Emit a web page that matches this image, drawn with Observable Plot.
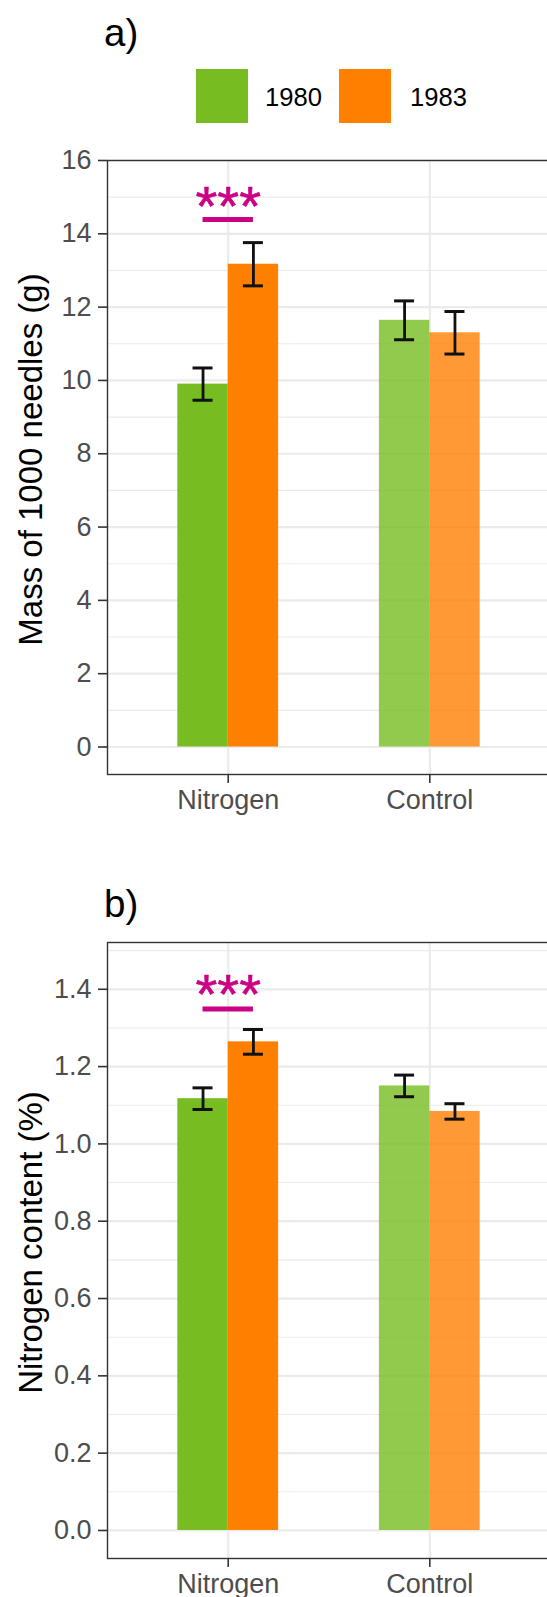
<!DOCTYPE html>
<html>
<head>
<meta charset="utf-8">
<script src="https://cdn.jsdelivr.net/npm/d3@7"></script>
<script src="https://cdn.jsdelivr.net/npm/@observablehq/plot@0.6"></script>
<style>
  html, body { margin: 0; padding: 0; background: #fff; }
  body { font-family: "Liberation Sans", Arial, sans-serif; }
  #page { position: relative; width: 547px; height: 1597px; overflow: hidden; background: #fff; }
  .abs { position: absolute; }
  .ptitle { font-size: 38.5px; line-height: 38.5px; color: #000; white-space: nowrap; }
  .sw { position: absolute; width: 52px; height: 54px; }
  .lt { position: absolute; font-size: 25.6px; line-height: 26px; color: #000; white-space: nowrap; }
</style>
</head>
<body>
<div id="page"></div>
<script>
// ---------------- data ----------------
const treatments = ["Nitrogen", "Control"];
const years = ["1980", "1983"];
const yearColors = ["#77BD21", "#FF8000"];
const panelLabels = ["a)", "b)"];
const yTitles = ["Mass of 1000 needles (g)", "Nitrogen content (%)"];

// a) mass of 1000 needles (g): mean and standard error per treatment
const massMean1980 = [9.9, 11.64];
const massSE1980 = [0.44, 0.53];
const massMean1983 = [13.17, 11.3];
const massSE1983 = [0.59, 0.58];
const massTicks = [0, 2, 4, 6, 8, 10, 12, 14, 16];
const massMinorTicks = [1, 3, 5, 7, 9, 11, 13, 15];
const massSigTreatment = ["Nitrogen"];
const massSigBarY = [14.39];
const massSigStarY = [14.87];

// b) nitrogen content (%)
const nMean1980 = [1.117, 1.15];
const nSE1980 = [0.028, 0.028];
const nMean1983 = [1.264, 1.084];
const nSE1983 = [0.032, 0.02];
const nTicks = [0.0, 0.2, 0.4, 0.6, 0.8, 1.0, 1.2, 1.4];
const nMinorTicks = [0.1, 0.3, 0.5, 0.7, 0.9, 1.1, 1.3, 1.5];
const nSigTreatment = ["Nitrogen"];
const nSigBarY = [1.349];
const nSigStarY = [1.397];

const sigLabel = "***";
const sigColor = "#CC0085";

// ---------------- helpers ----------------
function buildRows(m80, s80, m83, s83) {
  const rows = [];
  treatments.forEach((t, i) => {
    rows.push({treatment: t, year: years[0], mean: m80[i], se: s80[i]});
    rows.push({treatment: t, year: years[1], mean: m83[i], se: s83[i]});
  });
  return rows;
}

const W = 547;
const ML = 107;
const MR = -3;
const PI = 0.5, PO = 0.349;
const xRange = [ML, W - MR];
const step = (xRange[1] - xRange[0]) / (treatments.length - PI + 2 * PO);
const bw = step * (1 - PI);
const capHalf = 10;
const axisFont = 27;

function makeChart(cfg) {
  const rows = cfg.rows;
  const r80 = rows.filter(d => d.year === years[0]);
  const r83 = rows.filter(d => d.year === years[1]);
  const caps80 = r80.flatMap(d => [{treatment: d.treatment, y: d.mean - d.se}, {treatment: d.treatment, y: d.mean + d.se}]);
  const caps83 = r83.flatMap(d => [{treatment: d.treatment, y: d.mean - d.se}, {treatment: d.treatment, y: d.mean + d.se}]);
  const sig = cfg.sigTreatment.map((t, i) => ({treatment: t, bar: cfg.sigBarY[i], star: cfg.sigStarY[i], label: sigLabel}));
  const op = d => d.treatment === "Control" ? 0.8 : 1;
  return Plot.plot({
    width: W,
    height: cfg.height,
    marginLeft: ML,
    marginRight: MR,
    marginTop: cfg.marginTop,
    marginBottom: cfg.marginBottom,
    style: {fontFamily: "'Liberation Sans', Arial, sans-serif", background: "transparent"},
    x: {type: "band", domain: treatments, range: xRange, paddingInner: PI, paddingOuter: PO, round: false},
    y: {domain: cfg.yDomain},
    marks: [
      Plot.gridY(cfg.minor, {stroke: "#EBEBEB", strokeOpacity: 1, strokeWidth: 1.1}),
      Plot.gridY(cfg.ticks, {stroke: "#EBEBEB", strokeOpacity: 1, strokeWidth: 2.2}),
      Plot.gridX(treatments, {stroke: "#EBEBEB", strokeOpacity: 1, strokeWidth: 2.2}),
      Plot.barY(r80, {x: "treatment", y: "mean", fill: yearColors[0], fillOpacity: op, insetRight: bw / 2}),
      Plot.barY(r83, {x: "treatment", y: "mean", fill: yearColors[1], fillOpacity: op, insetLeft: bw / 2}),
      Plot.ruleX(r80, {x: "treatment", y1: d => d.mean - d.se, y2: d => d.mean + d.se, dx: -bw / 4, stroke: "#111", strokeWidth: 2.8}),
      Plot.ruleX(r83, {x: "treatment", y1: d => d.mean - d.se, y2: d => d.mean + d.se, dx: bw / 4, stroke: "#111", strokeWidth: 2.8}),
      Plot.tickY(caps80, {x: "treatment", y: "y", stroke: "#111", strokeWidth: 3, insetLeft: bw / 4 - capHalf, insetRight: 3 * bw / 4 - capHalf}),
      Plot.tickY(caps83, {x: "treatment", y: "y", stroke: "#111", strokeWidth: 3, insetLeft: 3 * bw / 4 - capHalf, insetRight: bw / 4 - capHalf}),
      Plot.tickY(sig, {x: "treatment", y: "bar", stroke: sigColor, strokeWidth: 5, insetLeft: bw / 4, insetRight: bw / 4}),
      Plot.text(sig, {x: "treatment", y: "star", text: "label", fill: sigColor, fontSize: 56, dy: 5, stroke: sigColor, strokeWidth: 0.6}),
      Plot.frame({stroke: "#333", strokeWidth: 1.4}),
      Plot.axisY(cfg.ticks, {tickSize: 9, tickPadding: 7, tickFormat: cfg.fmt, fontSize: axisFont, stroke: "#333", strokeWidth: 1.6, fill: "#4D4D4D", label: null}),
      Plot.axisX({tickSize: 9, tickPadding: 6, fontSize: axisFont, stroke: "#333", strokeWidth: 1.6, fill: "#4D4D4D", label: null}),
      Plot.text([cfg.yTitle], {text: d => d, frameAnchor: "left", textAnchor: "middle", dx: -76, dy: -8, rotate: -90, fontSize: 33, fill: "#000"})
    ]
  });
}

// ---------------- layout ----------------
const page = document.getElementById("page");

function addDiv(cls, left, top, text, extra) {
  const d = document.createElement("div");
  d.className = cls;
  d.style.left = left + "px";
  d.style.top = top + "px";
  if (text != null) d.textContent = text;
  if (extra) Object.assign(d.style, extra);
  page.appendChild(d);
  return d;
}

// chart a
const chartA = makeChart({
  rows: buildRows(massMean1980, massSE1980, massMean1983, massSE1983),
  yDomain: [-0.75, 16], ticks: massTicks, minor: massMinorTicks, fmt: d3.format("d"),
  yTitle: yTitles[0], sigTreatment: massSigTreatment, sigBarY: massSigBarY, sigStarY: massSigStarY,
  height: 700, marginTop: 20, marginBottom: 66
});
const wrapA = addDiv("abs", 0, 140);
wrapA.appendChild(chartA);

// chart b
const chartB = makeChart({
  rows: buildRows(nMean1980, nSE1980, nMean1983, nSE1983),
  yDomain: [-0.0725, 1.521], ticks: nTicks, minor: nMinorTicks, fmt: d3.format(".1f"),
  yTitle: yTitles[1], sigTreatment: nSigTreatment, sigBarY: nSigBarY, sigStarY: nSigStarY,
  height: 677, marginTop: 22, marginBottom: 39
});
const wrapB = addDiv("abs", 0, 920);
wrapB.appendChild(chartB);

// titles
addDiv("abs ptitle", 104, 14, panelLabels[0]);
addDiv("abs ptitle", 104, 885, panelLabels[1]);

// legend
const swLeft = [196, 339];
const ltLeft = [265, 410];
years.forEach((y, i) => {
  addDiv("sw", swLeft[i], 69, null, {background: yearColors[i]});
  addDiv("lt", ltLeft[i], 84, y);
});
</script>
</body>
</html>
